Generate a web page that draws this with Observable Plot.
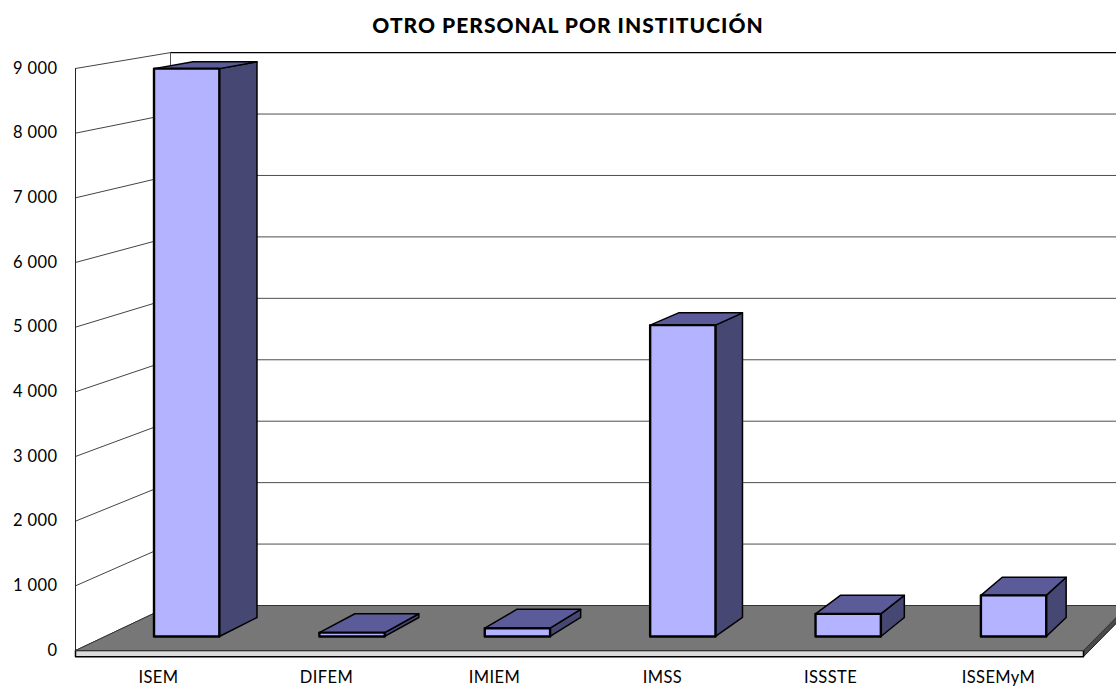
<!DOCTYPE html>
<html>
<head>
<meta charset="utf-8">
<script src="https://cdn.jsdelivr.net/npm/d3@7"></script>
<script src="https://cdn.jsdelivr.net/npm/@observablehq/plot@0.6"></script>
<style>
html,body{margin:0;padding:0;background:#fff;width:1116px;height:687px;overflow:hidden}
#title{height:40px;padding-left:20px;box-sizing:border-box;text-align:center;font:900 21px/50px Lato,sans-serif;letter-spacing:1px;color:#000;white-space:nowrap}
svg{display:block}
svg g[aria-label$="axis tick label"] text{letter-spacing:.4px}
</style>
</head>
<body>
<div id="title">OTRO PERSONAL POR INSTITUCIÓN</div>
<div id="chart"></div>
<script>
const categories = ["ISEM", "DIFEM", "IMIEM", "IMSS", "ISSSTE", "ISSEMyM"];
const values = [8920, 60, 130, 4890, 355, 645];
const gridValues = [0, 1000, 2000, 3000, 4000, 5000, 6000, 7000, 8000, 9000];

// Perspective, in data units: points recede toward a vanishing point as depth grows
const vanishX = 11.31, vanishY = 13917;
const depthBack = 0.05, depthBarFront = 0.0156, depthBarBack = 0.0367;
const barWidth = 0.395, barCenter = 0.493, slabDrop = -95;

const P = (x, v, t) => ({x: x + t * (vanishX - x), y: v + t * (vanishY - v)});
const poly = (id, pts) => pts.map(([x, v, t]) => ({id, ...P(x, v, t)}));
const bar = (i) => [i + barCenter - barWidth / 2, i + barCenter + barWidth / 2, values[i]];

const frontFaces = categories.flatMap((c, i) => {
  const [a, b, v] = bar(i), t = depthBarFront;
  return poly(c, [[a, 0, t], [b, 0, t], [b, v, t], [a, v, t], [a, 0, t]]);
});
const sideFaces = categories.flatMap((c, i) => {
  const [, b, v] = bar(i), t = depthBarFront, u = depthBarBack;
  return poly(c, [[b, 0, t], [b, 0, u], [b, v, u], [b, v, t], [b, 0, t]]);
});
const topFaces = categories.flatMap((c, i) => {
  const [a, b, v] = bar(i), t = depthBarFront, u = depthBarBack;
  return poly(c, [[a, v, t], [b, v, t], [b, v, u], [a, v, u], [a, v, t]]);
});
const leftGrid = gridValues.flatMap((v) => poly(v, [[0, v, 0], [0, v, depthBack]]));
const backGrid = gridValues.slice(1, -1).flatMap((v) => poly(v, [[0, v, depthBack], [6, v, depthBack]]));
const backTop = poly("top", [[0, 9000, depthBack], [6, 9000, depthBack]]);
const leftEdge = poly("l", [[0, 0, 0], [0, 9000, 0]]);
const backEdge = poly("b", [[0, 0, depthBack], [0, 9000, depthBack]]);
const floor = poly("f", [[0, 0, 0], [6, 0, 0], [6, 0, depthBack], [0, 0, depthBack], [0, 0, 0]]);
const slabFront = poly("sf", [[0, 0, 0], [6, 0, 0], [6, slabDrop, 0], [0, slabDrop, 0], [0, 0, 0]]);
const slabSide = poly("ss", [[6, 0, 0], [6, 0, depthBack], [6, slabDrop, depthBack], [6, slabDrop, 0], [6, 0, 0]]);

const fmt = d3.formatLocale({decimal: ".", thousands: " ", grouping: [3], currency: ["", ""]}).format(",");
const xy = {x: "x", y: "y", z: "id"};

const chart = Plot.plot({
  width: 1116,
  height: 647,
  marginLeft: 75,
  marginRight: 33,
  marginTop: 28,
  marginBottom: 37,
  style: {fontFamily: "Lato, sans-serif", fontSize: "16.5px", color: "#000", background: "#fff"},
  x: {domain: [0, 6]},
  y: {domain: [0, 9000]},
  marks: [
    Plot.line(backGrid, {...xy, stroke: "#4d4d4d", strokeWidth: 1}),
    Plot.line(backTop, {...xy, stroke: "#000", strokeWidth: 1.2}),
    Plot.line(backEdge, {...xy, stroke: "#555", strokeWidth: 1}),
    Plot.line(leftGrid, {...xy, stroke: "#444", strokeWidth: 1}),
    Plot.line(leftEdge, {...xy, stroke: "#222", strokeWidth: 1}),
    Plot.line(slabSide, {...xy, fill: "#4a4a4a", stroke: "#222", strokeWidth: 1}),
    Plot.line(slabFront, {...xy, fill: "#dcdcdc", stroke: "#000", strokeWidth: 1.5}),
    Plot.line(floor, {...xy, fill: "#777777", stroke: "#333", strokeWidth: 1}),
    Plot.line(sideFaces, {...xy, fill: "#474773", stroke: "#000", strokeWidth: 1.5}),
    Plot.line(topFaces, {...xy, fill: "#5b5b99", stroke: "#000", strokeWidth: 1.5}),
    Plot.line(frontFaces, {...xy, fill: "#b3b3ff", stroke: "#000", strokeWidth: 2.4}),
    Plot.axisY({ticks: gridValues, tickFormat: fmt, tickSize: 0, tickPadding: 18, label: null}),
    Plot.axisX({ticks: categories.map((_, i) => i + 0.5), tickFormat: (d) => categories[d - 0.5], tickSize: 0, tickPadding: 21, dx: -1, label: null})
  ]
});
document.getElementById("chart").append(chart);
</script>
</body>
</html>
